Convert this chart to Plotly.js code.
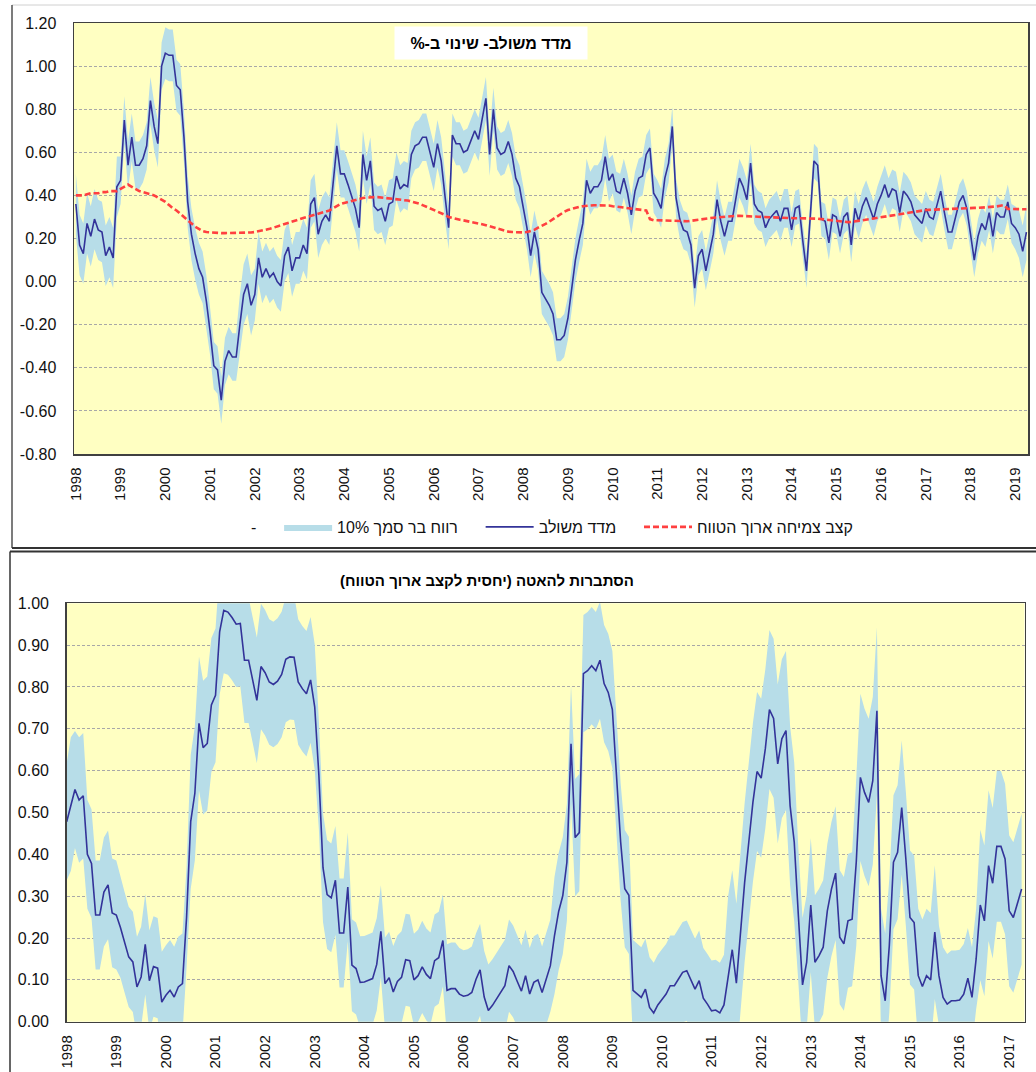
<!DOCTYPE html>
<html>
<head>
<meta charset="utf-8">
<script src="https://cdn.plot.ly/plotly-3.0.1.min.js"></script>
<style>
html,body{margin:0;padding:0;background:#fff;}
#chart{width:1036px;height:1072px;}
</style>
</head>
<body>
<div id="chart"></div>
<script>
// ---------- DATA (monthly, Jan 1998 onward) ----------
const yearLabelsTop = ['1998','1999','2000','2001','2002','2003','2004','2005','2006','2007','2008','2009','2010','2011','2012','2013','2014','2015','2016','2017','2018','2019'];
const yearLabelsBottom = ['1998','1999','2000','2001','2002','2003','2004','2005','2006','2007','2008','2009','2010','2011','2012','2013','2014','2015','2016','2017'];

// Composite index, % change (Jan 1998 - Apr 2019)
const indexValues = [
 0.36,0.17,0.13,0.27,0.21,0.29,0.24,0.23,0.12,0.16,0.11,0.44,
 0.47,0.75,0.54,0.67,0.54,0.54,0.57,0.63,0.84,0.72,0.64,1.00,
 1.06,1.05,1.05,0.91,0.89,0.67,0.37,0.22,0.13,0.06,0.02,-0.09,
 -0.23,-0.39,-0.41,-0.55,-0.37,-0.32,-0.35,-0.35,-0.20,-0.06,-0.01,-0.11,
 -0.06,0.11,0.02,0.06,0.02,0.04,0.00,-0.02,0.12,0.16,0.05,0.11,
 0.11,0.17,0.13,0.36,0.39,0.22,0.28,0.31,0.28,0.47,0.63,0.50,
 0.50,0.45,0.40,0.34,0.25,0.59,0.47,0.56,0.35,0.33,0.34,0.28,
 0.36,0.37,0.49,0.43,0.45,0.44,0.59,0.63,0.64,0.67,0.67,0.60,
 0.53,0.64,0.56,0.40,0.25,0.68,0.64,0.64,0.60,0.61,0.66,0.70,
 0.66,0.76,0.85,0.59,0.80,0.62,0.59,0.60,0.65,0.59,0.48,0.44,
 0.35,0.25,0.12,0.23,0.15,-0.05,-0.08,-0.11,-0.15,-0.27,-0.27,-0.25,
 -0.17,-0.03,0.10,0.19,0.27,0.47,0.41,0.44,0.44,0.47,0.58,0.47,
 0.50,0.42,0.41,0.48,0.41,0.31,0.42,0.48,0.49,0.59,0.62,0.41,
 0.38,0.34,0.48,0.55,0.72,0.39,0.29,0.24,0.23,0.17,-0.03,0.12,
 0.15,0.05,0.14,0.22,0.38,0.28,0.21,0.28,0.28,0.38,0.48,0.44,
 0.38,0.55,0.36,0.33,0.32,0.25,0.29,0.31,0.33,0.28,0.34,0.34,
 0.24,0.34,0.35,0.19,0.05,0.30,0.56,0.54,0.29,0.28,0.18,0.31,
 0.30,0.21,0.30,0.32,0.17,0.34,0.28,0.35,0.39,0.34,0.29,0.36,
 0.40,0.45,0.39,0.43,0.42,0.32,0.42,0.40,0.37,0.31,0.29,0.27,
 0.34,0.30,0.29,0.36,0.42,0.32,0.23,0.23,0.30,0.37,0.40,0.34,
 0.22,0.10,0.21,0.27,0.24,0.32,0.21,0.32,0.30,0.30,0.37,0.27,
 0.25,0.22,0.14,0.23
];

// Half-width of the 10% confidence band around the index
const indexBand = [
 0.14,0.14,0.14,0.14,0.14,0.14,0.14,0.14,0.14,0.14,0.14,0.14,
 0.11,0.11,0.11,0.11,0.11,0.11,0.11,0.11,0.11,0.11,0.11,0.11,
 0.12,0.12,0.12,0.12,0.12,0.12,0.12,0.12,0.12,0.12,0.12,0.12,
 0.11,0.11,0.11,0.11,0.11,0.11,0.11,0.11,0.14,0.14,0.14,0.14,
 0.12,0.12,0.12,0.12,0.12,0.12,0.12,0.12,0.12,0.12,0.12,0.12,
 0.12,0.12,0.12,0.11,0.11,0.11,0.11,0.11,0.11,0.11,0.11,0.11,
 0.11,0.11,0.11,0.11,0.11,0.11,0.11,0.11,0.11,0.11,0.11,0.11,
 0.11,0.11,0.11,0.11,0.11,0.11,0.11,0.11,0.11,0.11,0.11,0.11,
 0.11,0.11,0.11,0.11,0.10,0.10,0.10,0.10,0.10,0.10,0.10,0.10,
 0.10,0.10,0.10,0.10,0.10,0.10,0.10,0.10,0.10,0.10,0.10,0.10,
 0.10,0.10,0.10,0.10,0.10,0.10,0.10,0.10,0.10,0.10,0.10,0.10,
 0.10,0.10,0.10,0.10,0.10,0.10,0.10,0.10,0.10,0.10,0.10,0.10,
 0.09,0.09,0.09,0.09,0.09,0.09,0.09,0.09,0.09,0.09,0.09,0.09,
 0.09,0.09,0.09,0.09,0.09,0.09,0.09,0.09,0.09,0.09,0.09,0.09,
 0.09,0.09,0.09,0.09,0.09,0.09,0.09,0.09,0.09,0.09,0.09,0.09,
 0.09,0.09,0.09,0.09,0.09,0.09,0.09,0.09,0.09,0.09,0.09,0.09,
 0.08,0.08,0.08,0.08,0.08,0.08,0.08,0.08,0.08,0.08,0.08,0.08,
 0.08,0.08,0.08,0.08,0.08,0.08,0.08,0.08,0.08,0.08,0.08,0.08,
 0.09,0.09,0.09,0.09,0.09,0.09,0.09,0.09,0.09,0.09,0.09,0.09,
 0.08,0.08,0.08,0.08,0.08,0.08,0.08,0.08,0.08,0.08,0.08,0.08,
 0.08,0.08,0.08,0.08,0.08,0.08,0.08,0.08,0.08,0.08,0.08,0.09,
 0.10,0.11,0.12,0.13
];

// Long-run growth rate (red dashed)
const trendValues = [
 0.40,0.40,0.40,0.405,0.41,0.41,0.41,0.415,0.415,0.42,0.42,0.42,
 0.43,0.44,0.45,0.44,0.43,0.42,0.415,0.41,0.405,0.40,0.39,0.38,
 0.37,0.355,0.34,0.33,0.315,0.30,0.285,0.27,0.255,0.245,0.235,0.23,
 0.228,0.227,0.226,0.225,0.225,0.225,0.225,0.225,0.225,0.226,0.227,0.228,
 0.23,0.233,0.236,0.24,0.245,0.25,0.256,0.262,0.268,0.274,0.28,0.286,
 0.29,0.295,0.30,0.305,0.31,0.315,0.32,0.325,0.33,0.34,0.35,0.36,
 0.365,0.37,0.375,0.38,0.385,0.388,0.39,0.392,0.392,0.392,0.39,0.388,
 0.386,0.385,0.384,0.382,0.38,0.376,0.372,0.368,0.362,0.355,0.348,0.34,
 0.333,0.325,0.318,0.31,0.30,0.295,0.29,0.287,0.284,0.281,0.278,0.275,
 0.27,0.266,0.262,0.257,0.25,0.245,0.24,0.236,0.232,0.23,0.229,0.228,
 0.228,0.23,0.234,0.24,0.25,0.258,0.268,0.278,0.29,0.302,0.314,0.324,
 0.332,0.338,0.343,0.347,0.35,0.352,0.353,0.354,0.354,0.354,0.354,0.353,
 0.35,0.348,0.346,0.344,0.342,0.34,0.338,0.336,0.333,0.33,0.29,0.285,
 0.285,0.284,0.283,0.282,0.281,0.28,0.28,0.28,0.28,0.282,0.285,0.288,
 0.29,0.292,0.294,0.296,0.298,0.30,0.302,0.304,0.305,0.305,0.305,0.305,
 0.304,0.303,0.302,0.301,0.30,0.30,0.299,0.298,0.297,0.296,0.295,0.295,
 0.294,0.294,0.294,0.294,0.294,0.294,0.293,0.292,0.29,0.288,0.285,0.282,
 0.279,0.277,0.276,0.276,0.277,0.279,0.281,0.284,0.287,0.29,0.293,0.296,
 0.299,0.302,0.305,0.308,0.311,0.314,0.317,0.32,0.323,0.326,0.328,0.33,
 0.332,0.333,0.334,0.335,0.336,0.337,0.338,0.339,0.34,0.341,0.342,0.342,
 0.342,0.342,0.342,0.343,0.344,0.345,0.347,0.349,0.352,0.355,0.337,0.336,
 0.336,0.336,0.336,0.336
];

// Probability of slowdown (Jan 1998 - Apr 2017)
const probValues = [
 0.478,0.52,0.555,0.53,0.54,0.40,0.378,0.255,0.255,0.31,0.327,0.26,
 0.255,0.225,0.19,0.155,0.143,0.083,0.107,0.185,0.098,0.132,0.128,0.047,
 0.063,0.075,0.059,0.083,0.091,0.25,0.478,0.546,0.713,0.655,0.665,0.757,
 0.78,0.932,0.983,0.979,0.966,0.95,0.952,0.864,0.864,0.816,0.768,0.849,
 0.834,0.812,0.806,0.814,0.83,0.866,0.872,0.871,0.812,0.796,0.784,0.817,
 0.752,0.59,0.368,0.304,0.296,0.338,0.212,0.212,0.322,0.135,0.127,0.094,
 0.095,0.099,0.103,0.137,0.216,0.091,0.105,0.071,0.096,0.106,0.148,0.146,
 0.10,0.11,0.131,0.113,0.103,0.146,0.153,0.194,0.075,0.079,0.079,0.066,
 0.061,0.063,0.07,0.101,0.124,0.059,0.027,0.039,0.055,0.069,0.086,0.134,
 0.12,0.096,0.073,0.11,0.066,0.094,0.10,0.07,0.102,0.134,0.206,0.263,
 0.301,0.381,0.664,0.44,0.452,0.832,0.839,0.851,0.839,0.864,0.808,0.787,
 0.746,0.60,0.43,0.318,0.302,0.075,0.066,0.058,0.078,0.034,0.021,0.04,
 0.053,0.066,0.086,0.086,0.102,0.118,0.122,0.098,0.078,0.098,0.056,0.042,
 0.026,0.028,0.021,0.04,0.11,0.172,0.092,0.214,0.333,0.429,0.524,0.598,
 0.582,0.652,0.746,0.725,0.616,0.676,0.696,0.516,0.429,0.253,0.088,0.142,
 0.279,0.142,0.158,0.178,0.265,0.317,0.355,0.202,0.186,0.241,0.245,0.381,
 0.584,0.548,0.524,0.576,0.743,0.11,0.05,0.182,0.381,0.405,0.512,0.389,
 0.249,0.237,0.11,0.084,0.11,0.10,0.214,0.11,0.058,0.042,0.05,0.05,
 0.052,0.066,0.104,0.058,0.15,0.279,0.241,0.373,0.331,0.419,0.419,0.389,
 0.265,0.249,0.281,0.317
];

// Half-width of the confidence band around the probability
const probBand = [
 0.14,0.16,0.14,0.15,0.15,0.13,0.13,0.13,0.13,0.13,0.13,0.13,
 0.13,0.12,0.12,0.12,0.12,0.12,0.12,0.12,0.12,0.12,0.12,0.12,
 0.12,0.12,0.12,0.12,0.12,0.12,0.16,0.16,0.16,0.16,0.16,0.16,
 0.16,0.15,0.15,0.15,0.15,0.15,0.15,0.15,0.15,0.15,0.15,0.15,
 0.15,0.15,0.15,0.15,0.15,0.15,0.15,0.15,0.15,0.15,0.15,0.15,
 0.15,0.13,0.13,0.13,0.13,0.13,0.13,0.13,0.13,0.11,0.11,0.11,
 0.11,0.11,0.11,0.11,0.11,0.11,0.11,0.11,0.11,0.11,0.11,0.11,
 0.11,0.11,0.11,0.11,0.11,0.11,0.11,0.11,0.11,0.11,0.11,0.11,
 0.11,0.11,0.11,0.11,0.11,0.11,0.11,0.11,0.11,0.11,0.11,0.11,
 0.11,0.11,0.11,0.11,0.11,0.11,0.11,0.11,0.11,0.11,0.14,0.14,
 0.14,0.14,0.14,0.14,0.14,0.14,0.14,0.14,0.14,0.14,0.14,0.14,
 0.14,0.14,0.14,0.14,0.14,0.12,0.12,0.12,0.12,0.12,0.12,0.12,
 0.12,0.12,0.12,0.12,0.12,0.12,0.12,0.12,0.12,0.12,0.12,0.12,
 0.12,0.12,0.12,0.12,0.19,0.19,0.19,0.19,0.19,0.19,0.19,0.19,
 0.19,0.19,0.19,0.19,0.19,0.19,0.19,0.19,0.19,0.16,0.16,0.16,
 0.16,0.16,0.16,0.16,0.16,0.16,0.16,0.16,0.16,0.16,0.16,0.20,
 0.20,0.20,0.20,0.20,0.20,0.16,0.16,0.16,0.16,0.16,0.16,0.16,
 0.16,0.16,0.16,0.16,0.16,0.16,0.16,0.12,0.12,0.12,0.12,0.12,
 0.12,0.12,0.12,0.12,0.12,0.18,0.18,0.18,0.18,0.18,0.18,0.18,
 0.18,0.18,0.18,0.18
];

// Labels
const titleTop = 'מדד משולב- שינוי ב-%';
const titleBottom = 'הסתברות להאטה (יחסית לקצב ארוך הטווח)';
const nameBlank = '-';
const nameBand = 'רווח בר סמך 10%';
const nameIndex = 'מדד משולב';
const nameTrend = 'קצב צמיחה ארוך הטווח';

// ---------- BUILD ----------
const RLM = '\u200F';
const PAD = '\u00A0\u00A0\u00A0\u00A0';
const rtl = s => RLM + s + RLM;
const FONT = 'Liberation Sans, Arial, sans-serif';
const BAND = '#B7DDE8';
const NAVY = '#333399';
const RED = '#FF4040';
const PLOTBG = '#FFFFC2';

const xTop = indexValues.map((_, i) => i);
const topLo = indexValues.map((v, i) => v - indexBand[i]);
const topHi = indexValues.map((v, i) => v + indexBand[i]);
const xBot = probValues.map((_, i) => i);
const botLo = probValues.map((v, i) => v - probBand[i]);
const botHi = probValues.map((v, i) => v + probBand[i]);

const traces = [
  {x: xTop, y: topLo, type: 'scatter', mode: 'lines', name: nameBlank + PAD,
   line: {width: 0, color: 'rgba(0,0,0,0)'}, hoverinfo: 'skip', xaxis: 'x', yaxis: 'y', showlegend: true},
  {x: xTop, y: topHi, type: 'scatter', mode: 'lines', name: rtl(nameBand) + PAD, fill: 'tonexty',
   fillcolor: BAND, line: {width: 0, color: BAND}, hoverinfo: 'skip', xaxis: 'x', yaxis: 'y'},
  {x: xTop, y: indexValues, type: 'scatter', mode: 'lines', name: rtl(nameIndex) + PAD,
   line: {width: 1.6, color: NAVY}, xaxis: 'x', yaxis: 'y'},
  {x: xTop, y: trendValues, type: 'scatter', mode: 'lines', name: rtl(nameTrend),
   line: {width: 2.6, color: RED, dash: '6px,3px'}, xaxis: 'x', yaxis: 'y'},
  {x: xBot, y: botLo, type: 'scatter', mode: 'lines', line: {width: 0, color: 'rgba(0,0,0,0)'},
   hoverinfo: 'skip', xaxis: 'x2', yaxis: 'y2', showlegend: false},
  {x: xBot, y: botHi, type: 'scatter', mode: 'lines', fill: 'tonexty', fillcolor: BAND,
   line: {width: 0, color: BAND}, hoverinfo: 'skip', xaxis: 'x2', yaxis: 'y2', showlegend: false},
  {x: xBot, y: probValues, type: 'scatter', mode: 'lines', line: {width: 1.6, color: NAVY},
   xaxis: 'x2', yaxis: 'y2', showlegend: false}
];

const W = 1036, H = 1072;
const px = v => v / W;
const py = v => 1 - v / H;

const topTickVals = yearLabelsTop.map((_, k) => k * 12);
const botTickVals = yearLabelsBottom.map((_, k) => k * 12);
const yTopVals = [-0.8,-0.6,-0.4,-0.2,0,0.2,0.4,0.6,0.8,1.0,1.2];
const yBotVals = [0,0.1,0.2,0.3,0.4,0.5,0.6,0.7,0.8,0.9,1.0];
const fmt = v => (v < 0 ? '-' : '') + Math.abs(v).toFixed(2);

const axisFrame = {showline: true, mirror: true, linecolor: '#404040', linewidth: 1.5, zeroline: false};
const gridY = {showgrid: true, gridcolor: '#A8A8A8', griddash: '3px,2px', gridwidth: 1};

const layout = {
  width: W, height: H,
  margin: {l: 0, r: 0, t: 0, b: 0},
  paper_bgcolor: '#FFFFFF',
  plot_bgcolor: PLOTBG,
  font: {family: FONT, color: '#111'},
  showlegend: true,
  legend: {orientation: 'h', x: px(193), xanchor: 'left', y: py(527), yanchor: 'middle',
           font: {family: FONT, size: 16, color: '#111'}, bgcolor: 'rgba(0,0,0,0)',
           traceorder: 'normal', itemwidth: 48},
  xaxis: Object.assign({}, axisFrame, {domain: [px(74), px(1028.3)], range: [-0.5, indexValues.length - 0.5],
           tickmode: 'array', tickvals: topTickVals, ticktext: yearLabelsTop, tickangle: -90,
           ticks: '', ticklabelstandoff: 6, showgrid: false,
           tickfont: {family: FONT, size: 15, color: '#111'}, anchor: 'y', fixedrange: true}),
  yaxis: Object.assign({}, axisFrame, gridY, {domain: [py(454), py(23)], range: [-0.8, 1.2],
           tickmode: 'array', tickvals: yTopVals, ticktext: yTopVals.map(fmt), ticks: '',
           ticklabelstandoff: 13, tickfont: {family: FONT, size: 16, color: '#111'}, anchor: 'x', fixedrange: true}),
  xaxis2: Object.assign({}, axisFrame, {domain: [px(66.7), px(1024.5)], range: [0, 231.7],
           tickmode: 'array', tickvals: botTickVals, ticktext: yearLabelsBottom, tickangle: -90,
           ticks: '', ticklabelstandoff: 6, showgrid: false,
           tickfont: {family: FONT, size: 15, color: '#111'}, anchor: 'y2', fixedrange: true}),
  yaxis2: Object.assign({}, axisFrame, gridY, {domain: [py(1021.7), py(603.3)], range: [0, 1],
           tickmode: 'array', tickvals: yBotVals, ticktext: yBotVals.map(fmt), ticks: '',
           ticklabelstandoff: 13, tickfont: {family: FONT, size: 16, color: '#111'}, anchor: 'x2', fixedrange: true}),
  annotations: [
    {xref: 'paper', yref: 'paper', x: px(491), y: py(43), xanchor: 'center', yanchor: 'middle',
     text: '<b>' + rtl(titleTop) + '</b>', showarrow: false, bgcolor: '#FFFFFF', width: 190, height: 30,
     font: {family: FONT, size: 16, color: '#000'}},
    {xref: 'paper', yref: 'paper', x: px(487), y: py(580), xanchor: 'center', yanchor: 'middle',
     text: '<b>' + rtl(titleBottom) + '</b>', showarrow: false,
     font: {family: FONT, size: 15, color: '#000'}}
  ],
  shapes: [
    {type: 'line', xref: 'paper', yref: 'paper', x0: px(12), x1: 1, y0: py(5), y1: py(5), line: {color: '#D0D0D0', width: 1}},
    {type: 'line', xref: 'paper', yref: 'paper', x0: px(12), x1: px(12), y0: py(5), y1: py(548), line: {color: '#505050', width: 1.5}},
    {type: 'line', xref: 'paper', yref: 'paper', x0: px(12), x1: 1, y0: py(548), y1: py(548), line: {color: '#333333', width: 2}},
    {type: 'line', xref: 'paper', yref: 'paper', x0: px(10), x1: 1, y0: py(551.5), y1: py(551.5), line: {color: '#333333', width: 2}},
    {type: 'line', xref: 'paper', yref: 'paper', x0: px(10), x1: px(10), y0: py(551.5), y1: 0, line: {color: '#333333', width: 1.5}}
  ]
};

Plotly.newPlot('chart', traces, layout, {displayModeBar: false, staticPlot: true});
</script>
</body>
</html>
